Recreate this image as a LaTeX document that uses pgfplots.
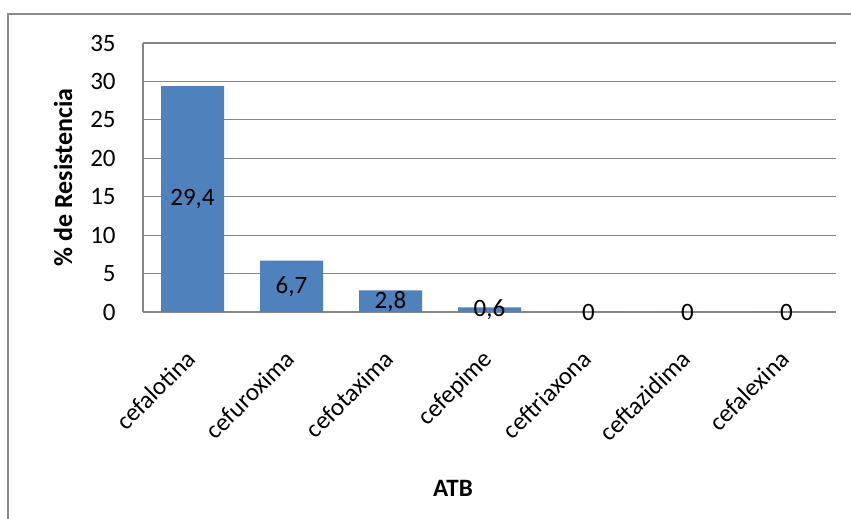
\documentclass[border=0pt]{standalone}
\usepackage{pgfplots}
\pgfplotsset{compat=1.18}
\usepackage{pgfplotstable}
\usepackage{fontspec}
\setmainfont{Carlito}

\definecolor{barblue}{RGB}{79,129,189}
\definecolor{gridgray}{RGB}{134,134,134}
\definecolor{framegray}{RGB}{140,140,140}

% Resistance per antibiotic (%)
\pgfplotstableread{
x v
0 29.4
1 6.7
2 2.8
3 0.6
4 0
5 0
6 0
}\resist

\pgfkeys{/pgf/number format/.cd, assume math mode=true, use comma, fixed, precision=1}

\begin{document}
\begin{tikzpicture}[font=\fontsize{25}{29}\selectfont]
\useasboundingbox (0,0) rectangle (851pt,519pt);
\draw[line width=2pt, framegray] (8pt,-5pt) -- (8pt,505pt) -- (860pt,505pt);
\begin{axis}[
  at={(143pt,207pt)}, anchor=south west,
  scale only axis, width=693pt, height=269pt,
  xmin=-0.5, xmax=6.5, ymin=0, ymax=35,
  ytick={0,5,...,35},
  xtick={0,...,6},
  xticklabels={cefalotina,cefuroxima,cefotaxima,cefepime,ceftriaxona,ceftazidima,cefalexina},
  axis x line=bottom, axis y line=left,
  axis line style={draw=gridgray, line width=1.2pt, -},
  ymajorgrids, grid style={draw=gridgray, line width=1.2pt},
  major tick style={draw=none},
  yticklabel style={inner sep=0pt, anchor=east, xshift=-25pt},
  xticklabel style={inner sep=0pt, xshift=-8pt, yshift=-34pt, rotate=45, anchor=north east},
  every axis y label/.style={at={(axis description cs:-0.1154,0.5)}, rotate=90, anchor=center, font=\fontsize{26}{30}\selectfont\bfseries},
  every axis x label/.style={at={(axis description cs:0.4473,-0.654)}, anchor=center, font=\fontsize{25}{29}\selectfont\bfseries},
  ylabel={\% de Resistencia},
  xlabel={ATB},
  clip=false,
]
\addplot[ybar, bar width=63pt, bar shift=0pt, fill=barblue, draw=none] table[x=x, y=v] {\resist};
\addplot[draw=none, mark=none, nodes near coords, point meta=explicit,
  nodes near coords style={anchor=center, inner sep=0pt, text=black}]
  table[x=x, y expr=\thisrow{v}/2, meta=v] {\resist};
\end{axis}
\end{tikzpicture}
\end{document}
